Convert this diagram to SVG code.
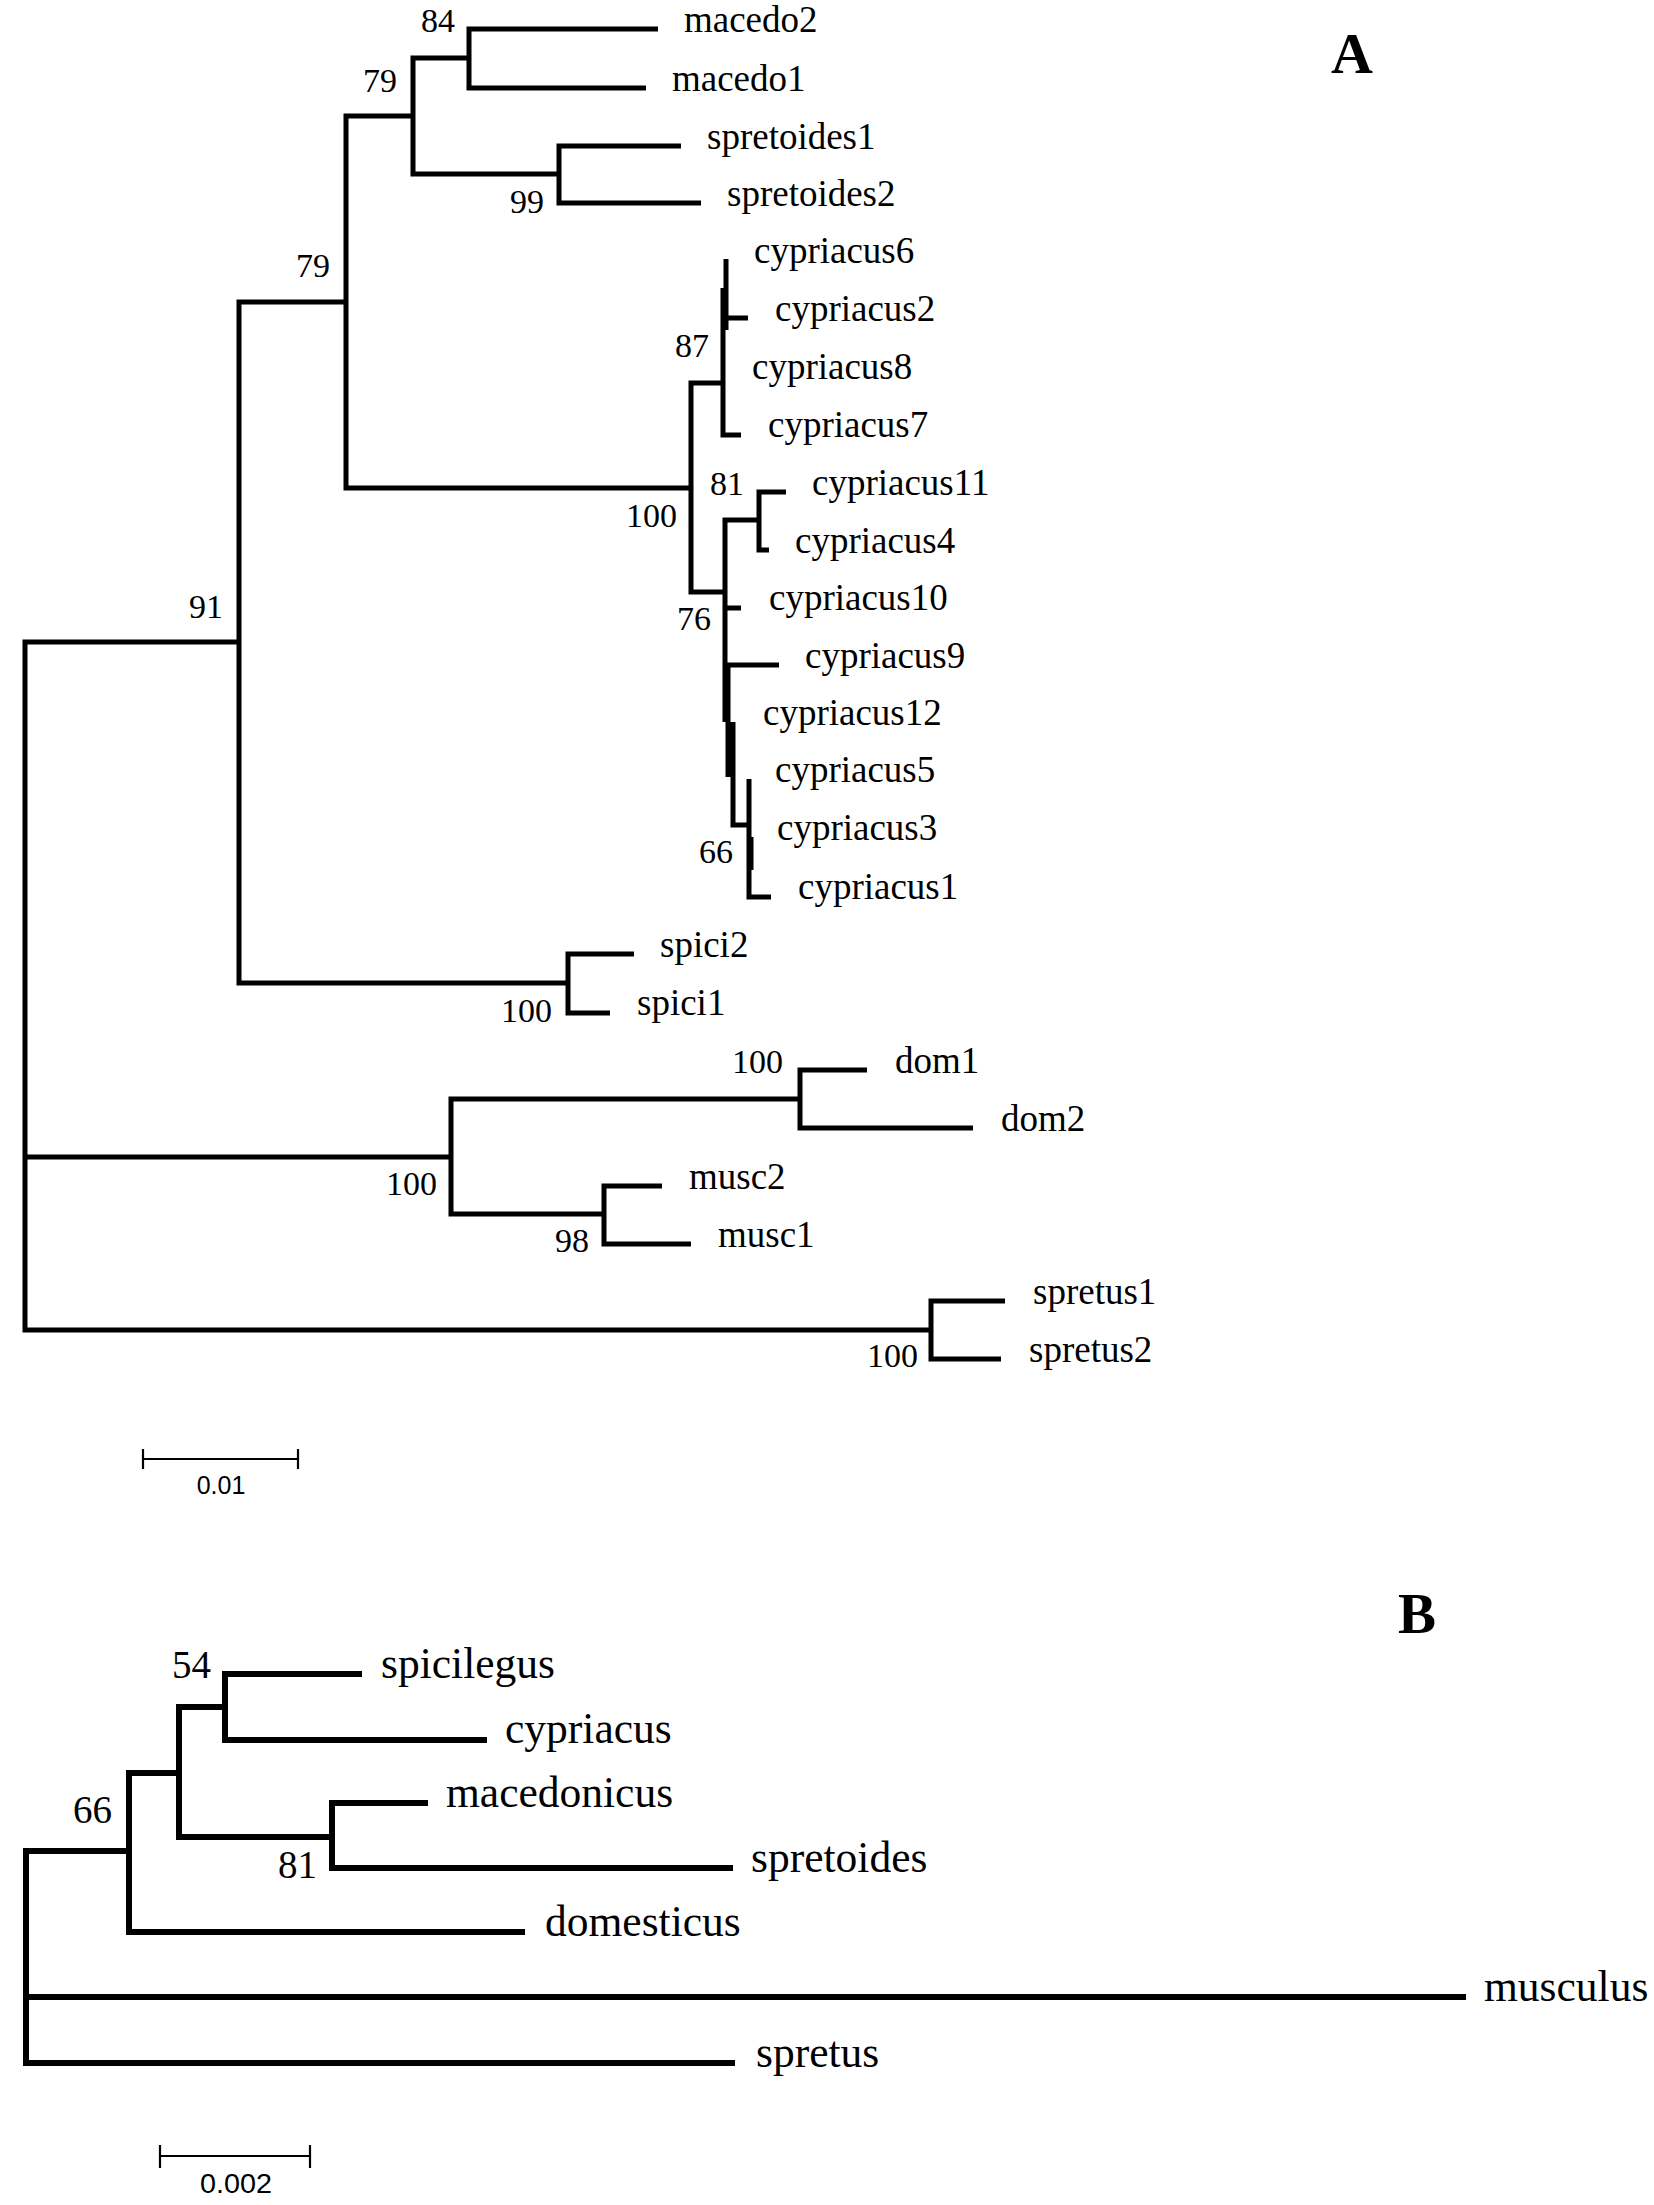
<svg xmlns="http://www.w3.org/2000/svg" width="1654" height="2205" viewBox="0 0 1654 2205">
<style>
.bA{fill:none;stroke:#000;stroke-width:5;stroke-linejoin:miter;stroke-linecap:butt}
.bB{fill:none;stroke:#000;stroke-width:6;stroke-linejoin:miter;stroke-linecap:butt}
.sb{fill:none;stroke:#000;stroke-width:2.2}
.lA{font-family:"Liberation Serif","Times New Roman",serif;font-size:37px;fill:#000}
.nA{font-family:"Liberation Serif","Times New Roman",serif;font-size:34px;fill:#000}
.lB{font-family:"Liberation Serif","Times New Roman",serif;font-size:43.5px;fill:#000}
.nB{font-family:"Liberation Serif","Times New Roman",serif;font-size:39px;fill:#000}
.ttl{font-family:"Liberation Serif","Times New Roman",serif;font-weight:bold;fill:#000}
.sc{font-family:"Liberation Sans",Arial,sans-serif;fill:#000;text-anchor:middle}
</style>
<rect width="1654" height="2205" fill="#fff"/>
<g id="connectors">
<g id="tree-A">
<path class="bA" d="M239 642H25V1330H931M25 1157H451"/>
<path class="bA" d="M346 302H239V983H568"/>
<path class="bA" d="M413 116H346V488H691"/>
<path class="bA" d="M469 58H413V174H559"/>
<path class="bA" d="M658 29H469V88H646"/>
<path class="bA" d="M681 146H559V203H701"/>
<path class="bA" d="M723 383H691V592H725"/>
<path class="bA" d="M726 259V330M723 288V435H741M726 318H748"/>
<path class="bA" d="M759 520H725V722M725 608H741M725 665H779M728 667V777M733 722V825H749M749 779V897H771M751 837V870"/>
<path class="bA" d="M786 492H759V550H769"/>
<path class="bA" d="M634 954H568V1013H610"/>
<path class="bA" d="M800 1099H451V1214H604"/>
<path class="bA" d="M867 1070H800V1128H973"/>
<path class="bA" d="M662 1186H604V1244H691"/>
<path class="bA" d="M1005 1301H931V1359H1001"/>
</g>
<g id="tree-B">
<path class="bB" d="M129 1851H26V2063H735M26 1997H1466"/>
<path class="bB" d="M179 1773H129V1932H525"/>
<path class="bB" d="M225 1707H179V1837H332"/>
<path class="bB" d="M362 1674H225V1740H487"/>
<path class="bB" d="M428 1803H332V1868H733"/>
</g>
</g>
<g id="panel-A">
<text class="ttl" x="1331" y="73" font-size="58">A</text>
<g id="leaf-macedo2"><text class="lA" x="684" y="32">macedo2</text></g>
<g id="leaf-macedo1"><text class="lA" x="672" y="91">macedo1</text></g>
<g id="leaf-spretoides1"><text class="lA" x="707" y="149">spretoides1</text></g>
<g id="leaf-spretoides2"><text class="lA" x="727" y="206">spretoides2</text></g>
<g id="leaf-cypriacus6"><text class="lA" x="754" y="263">cypriacus6</text></g>
<g id="leaf-cypriacus2"><text class="lA" x="775" y="321">cypriacus2</text></g>
<g id="leaf-cypriacus8"><text class="lA" x="752" y="379">cypriacus8</text></g>
<g id="leaf-cypriacus7"><text class="lA" x="768" y="437">cypriacus7</text></g>
<g id="leaf-cypriacus11"><text class="lA" x="812" y="495">cypriacus11</text></g>
<g id="leaf-cypriacus4"><text class="lA" x="795" y="553">cypriacus4</text></g>
<g id="leaf-cypriacus10"><text class="lA" x="769" y="610">cypriacus10</text></g>
<g id="leaf-cypriacus9"><text class="lA" x="805" y="668">cypriacus9</text></g>
<g id="leaf-cypriacus12"><text class="lA" x="763" y="725">cypriacus12</text></g>
<g id="leaf-cypriacus5"><text class="lA" x="775" y="782">cypriacus5</text></g>
<g id="leaf-cypriacus3"><text class="lA" x="777" y="840">cypriacus3</text></g>
<g id="leaf-cypriacus1"><text class="lA" x="798" y="899">cypriacus1</text></g>
<g id="leaf-spici2"><text class="lA" x="660" y="957">spici2</text></g>
<g id="leaf-spici1"><text class="lA" x="637" y="1015">spici1</text></g>
<g id="leaf-dom1"><text class="lA" x="895" y="1073">dom1</text></g>
<g id="leaf-dom2"><text class="lA" x="1001" y="1131">dom2</text></g>
<g id="leaf-musc2"><text class="lA" x="689" y="1189">musc2</text></g>
<g id="leaf-musc1"><text class="lA" x="718" y="1247">musc1</text></g>
<g id="leaf-spretus1"><text class="lA" x="1033" y="1304">spretus1</text></g>
<g id="leaf-spretus2"><text class="lA" x="1029" y="1362">spretus2</text></g>
<g id="bootstrap-A">
<text class="nA" x="421" y="32">84</text>
<text class="nA" x="363" y="92">79</text>
<text class="nA" x="510" y="213">99</text>
<text class="nA" x="296" y="277">79</text>
<text class="nA" x="189" y="618">91</text>
<text class="nA" x="675" y="357">87</text>
<text class="nA" x="626" y="527">100</text>
<text class="nA" x="710" y="495">81</text>
<text class="nA" x="677" y="630">76</text>
<text class="nA" x="699" y="863">66</text>
<text class="nA" x="501" y="1022">100</text>
<text class="nA" x="732" y="1073">100</text>
<text class="nA" x="386" y="1195">100</text>
<text class="nA" x="555" y="1252">98</text>
<text class="nA" x="867" y="1367">100</text>
</g>
<g id="scale-A">
<path class="sb" d="M143 1459H298M143 1449V1469M298 1449V1469"/>
<text class="sc" x="221" y="1494" font-size="25">0.01</text>
</g>
</g>
<g id="panel-B">
<text class="ttl" x="1398" y="1633" font-size="57">B</text>
<g id="leaf-spicilegus"><text class="lB" x="381" y="1678">spicilegus</text></g>
<g id="leaf-cypriacus"><text class="lB" x="505" y="1743">cypriacus</text></g>
<g id="leaf-macedonicus"><text class="lB" x="446" y="1807">macedonicus</text></g>
<g id="leaf-spretoides"><text class="lB" x="751" y="1872">spretoides</text></g>
<g id="leaf-domesticus"><text class="lB" x="545" y="1936">domesticus</text></g>
<g id="leaf-musculus"><text class="lB" x="1484" y="2001">musculus</text></g>
<g id="leaf-spretus"><text class="lB" x="756" y="2067">spretus</text></g>
<g id="bootstrap-B">
<text class="nB" x="172" y="1678">54</text>
<text class="nB" x="73" y="1823">66</text>
<text class="nB" x="278" y="1878">81</text>
</g>
<g id="scale-B">
<path class="sb" d="M160 2156H310M160 2145V2168M310 2145V2168"/>
<text class="sc" x="236" y="2193" font-size="27" textLength="72" lengthAdjust="spacingAndGlyphs">0.002</text>
</g>
</g>
</svg>
